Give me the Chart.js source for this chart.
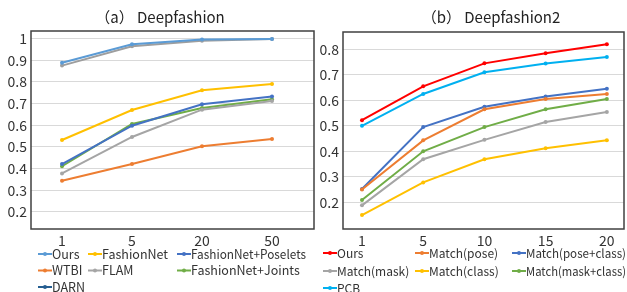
<!DOCTYPE html>
<html><head><meta charset="utf-8">
<script src="https://cdn.jsdelivr.net/npm/chart.js@4"></script>
<style>
html,body{margin:0;padding:0;background:#fff;width:627px;height:292px;overflow:hidden}
.wrap{position:absolute;top:0;height:292px}
</style></head>
<body>
<div class="wrap" style="left:0;width:320px"><canvas id="c1" width="320" height="292"></canvas></div>
<div class="wrap" style="left:320px;width:307px"><canvas id="c2" width="307" height="292"></canvas></div>
<script>
// ---- data: chart (a) Deepfashion ----
const catsA = ['1', '5', '20', '50'];
const ticksA = [0.2, 0.3, 0.4, 0.5, 0.6, 0.7, 0.8, 0.9, 1];
const oursA = [0.888, 0.973, 0.995, 0.998];
const fashionNet = [0.532, 0.670, 0.761, 0.790];
const fnPoselets = [0.421, 0.598, 0.697, 0.733];
const wtbi = [0.344, 0.421, 0.503, 0.537];
const flam = [0.378, 0.546, 0.672, 0.712];
const fnJoints = [0.411, 0.606, 0.680, 0.720];
const darn = [0.875, 0.964, 0.990, 0.998];

// ---- data: chart (b) Deepfashion2 ----
const catsB = ['1', '5', '10', '15', '20'];
const ticksB = [0.2, 0.3, 0.4, 0.5, 0.6, 0.7, 0.8];
const oursB = [0.522, 0.655, 0.745, 0.785, 0.820];
const matchPose = [0.250, 0.443, 0.565, 0.605, 0.625];
const matchPoseClass = [0.252, 0.495, 0.575, 0.615, 0.645];
const matchMask = [0.188, 0.369, 0.445, 0.515, 0.554];
const matchClass = [0.150, 0.278, 0.369, 0.412, 0.443];
const matchMaskClass = [0.209, 0.400, 0.495, 0.565, 0.605];
const pcb = [0.500, 0.625, 0.710, 0.744, 0.770];

const FONT = "'Noto Sans CJK SC', 'Noto Sans', sans-serif";

function pts(arr){ return arr.map((v,i)=>({x:i,y:v})); }
function ds(label, arr, color, legendColor){
  return {label, data: pts(arr), borderColor: color, backgroundColor: color,
    legendColor: legendColor || color,
    borderWidth: 2, pointRadius: 2, pointBorderWidth: 0, pointHoverRadius: 2, tension: 0};
}

function decorPlugin(cfg){
  return {
    id: 'decor',
    afterDraw(chart){
      const ctx = chart.ctx, a = chart.chartArea;
      ctx.save();
      ctx.strokeStyle = '#404040'; ctx.lineWidth = 1.5;
      ctx.strokeRect(a.left, a.top, a.right - a.left, a.bottom - a.top);
      ctx.fillStyle = '#222';
      ctx.font = '15px ' + FONT;
      ctx.textAlign = 'center'; ctx.textBaseline = 'middle';
      ctx.fillText(cfg.title, cfg.titleX, cfg.titleY);
      ctx.font = cfg.legendFont + ' ' + FONT;
      ctx.textAlign = 'left';
      cfg.legendOrder.forEach((dsIdx, k) => {
        const d = chart.data.datasets[dsIdx];
        const col = k % 3, row = Math.floor(k / 3);
        const x = cfg.colX[col], y = cfg.rowY[row];
        ctx.strokeStyle = d.legendColor; ctx.fillStyle = d.legendColor; ctx.lineWidth = 2;
        ctx.beginPath(); ctx.moveTo(x, y); ctx.lineTo(x + 14, y); ctx.stroke();
        ctx.beginPath(); ctx.arc(x + 7, y, 2, 0, Math.PI * 2); ctx.fill();
        ctx.fillStyle = '#333';
        ctx.fillText(d.label, x + 14, y, cfg.maxW[col]);
      });
      ctx.restore();
    }
  };
}

function makeChart(id, datasets, cats, yTicks, xr, yr, pad, yW, plug){
  return new Chart(document.getElementById(id), {
    type: 'line',
    data: { datasets },
    options: {
      responsive: false, animation: false, events: [],
      layout: { padding: pad },
      plugins: { legend: {display:false}, title:{display:false}, tooltip:{enabled:false} },
      scales: {
        x: { type: 'linear', min: xr[0], max: xr[1],
          afterBuildTicks: s => { s.ticks = cats.map((c,i)=>({value:i})); },
          afterFit: s => { s.height = 20; },
          ticks: { autoSkip:false, maxRotation:0, padding: 3, color:'#333', font:{family:FONT, size:14},
            callback: v => cats[v] },
          grid: { display:false, drawTicks:false }, border: { display:false } },
        y: { min: yr[0], max: yr[1],
          afterBuildTicks: s => { s.ticks = yTicks.map(v=>({value:v})); },
          afterFit: s => { s.width = yW; },
          ticks: { padding: 4, color:'#333', font:{family:FONT, size:14}, callback: v => String(v) },
          grid: { color:'#D9D9D9', lineWidth:1, drawTicks:false }, border: { display:false } }
      }
    },
    plugins: [plug]
  });
}

makeChart('c1', [
  ds('Ours', oursA, '#5B9BD5'),
  ds('FashionNet', fashionNet, '#FFC000'),
  ds('FashionNet+Poselets', fnPoselets, '#4472C4'),
  ds('WTBI', wtbi, '#ED7D31'),
  ds('FLAM', flam, '#A5A5A5'),
  ds('FashionNet+Joints', fnJoints, '#70AD47'),
  ds('DARN', darn, '#9E9E9E', '#255E91')
], catsA, ticksA, [-0.443, 3.6], [0.1216, 1.0346],
  {left:0, right:6, top:31, bottom:43}, 31,
  decorPlugin({title:'（a） Deepfashion', titleX:160, titleY:17, legendFont:'12.5px',
    legendOrder:[0,1,2,3,4,5,6], colX:[38,88,177], rowY:[254,270.5,287], maxW:[40,75,115]}));

makeChart('c2', [
  ds('Ours', oursB, '#FF0000'),
  ds('Match(pose)', matchPose, '#ED7D31'),
  ds('Match(pose+class)', matchPoseClass, '#4472C4'),
  ds('Match(mask)', matchMask, '#A5A5A5'),
  ds('Match(class)', matchClass, '#FFC000'),
  ds('Match(mask+class)', matchMaskClass, '#70AD47'),
  ds('PCB', pcb, '#00B0F0')
], catsB, ticksB, [-0.31, 4.28], [0.0953, 0.868],
  {left:0, right:3, top:32, bottom:43}, 23,
  decorPlugin({title:'（b） Deepfashion2', titleX:171, titleY:17, legendFont:'12px',
    legendOrder:[0,1,2,3,4,5,6], colX:[3,95,192], rowY:[253,271,288], maxW:[78,72,100]}));
</script>
</body></html>
